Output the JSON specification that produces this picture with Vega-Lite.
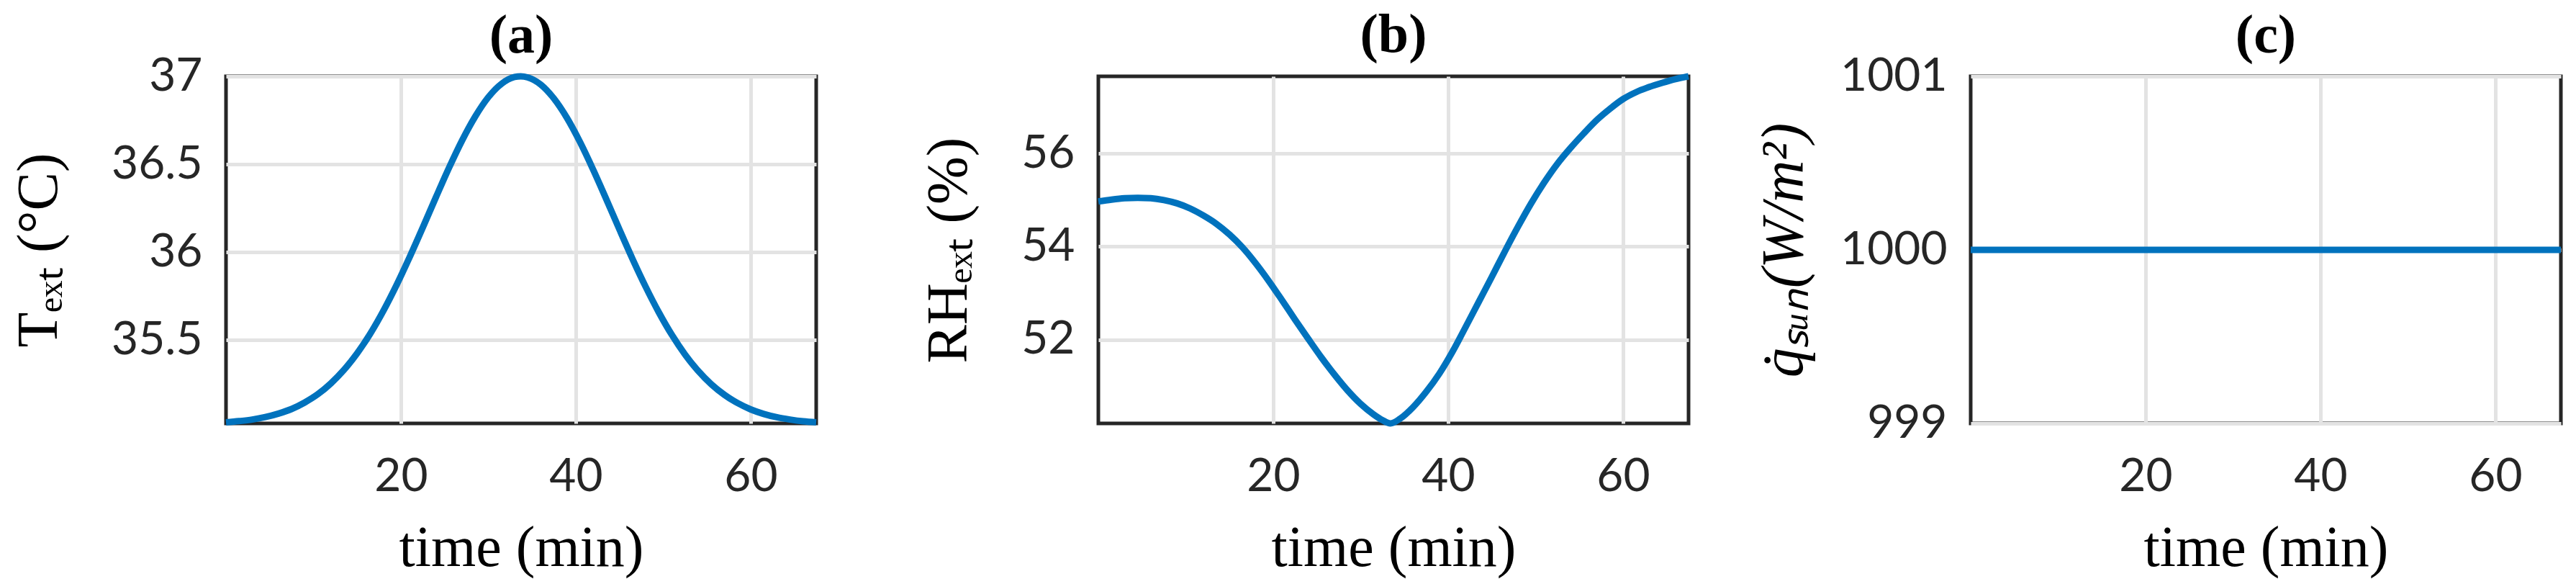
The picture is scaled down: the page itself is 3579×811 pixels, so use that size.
{
  "$schema": "https://vega.github.io/schema/vega-lite/v6.json",
  "background": "white",
  "padding": {"left": 12, "top": 8, "right": 0, "bottom": 0},
  "autosize": {"type": "pad"},
  "datasets": {
    "temp": [
      {"t": 0, "v": 35.031}, {"t": 1.5, "v": 35.038}, {"t": 3, "v": 35.047}, {"t": 4.5, "v": 35.061},
      {"t": 6, "v": 35.081}, {"t": 7.5, "v": 35.107}, {"t": 9, "v": 35.144}, {"t": 10.5, "v": 35.191},
      {"t": 12, "v": 35.253}, {"t": 13.5, "v": 35.33}, {"t": 15, "v": 35.424}, {"t": 16.5, "v": 35.536},
      {"t": 18, "v": 35.666}, {"t": 19.5, "v": 35.812}, {"t": 21, "v": 35.971}, {"t": 22.5, "v": 36.139},
      {"t": 24, "v": 36.311}, {"t": 25.5, "v": 36.479}, {"t": 27, "v": 36.635}, {"t": 28.5, "v": 36.771},
      {"t": 30, "v": 36.881}, {"t": 31.5, "v": 36.957}, {"t": 33, "v": 36.996}, {"t": 33.7, "v": 37.0},
      {"t": 34.5, "v": 36.994}, {"t": 36, "v": 36.953}, {"t": 37.5, "v": 36.874}, {"t": 39, "v": 36.763},
      {"t": 40.5, "v": 36.625}, {"t": 42, "v": 36.468}, {"t": 43.5, "v": 36.3}, {"t": 45, "v": 36.128},
      {"t": 46.5, "v": 35.96}, {"t": 48, "v": 35.802}, {"t": 49.5, "v": 35.657}, {"t": 51, "v": 35.528},
      {"t": 52.5, "v": 35.417}, {"t": 54, "v": 35.324}, {"t": 55.5, "v": 35.248}, {"t": 57, "v": 35.188},
      {"t": 58.5, "v": 35.141}, {"t": 60, "v": 35.105}, {"t": 61.5, "v": 35.079}, {"t": 63, "v": 35.06},
      {"t": 64.5, "v": 35.047}, {"t": 66, "v": 35.037}, {"t": 67.5, "v": 35.031}
    ],
    "rh": [
      {"t": 0, "v": 54.97}, {"t": 1.5, "v": 55.01}, {"t": 3, "v": 55.04}, {"t": 4.5, "v": 55.05},
      {"t": 6, "v": 55.04}, {"t": 7.5, "v": 55.0}, {"t": 9, "v": 54.93}, {"t": 10.5, "v": 54.82},
      {"t": 12, "v": 54.67}, {"t": 13.5, "v": 54.49}, {"t": 15, "v": 54.26}, {"t": 16.5, "v": 53.98},
      {"t": 18, "v": 53.64}, {"t": 19.5, "v": 53.26}, {"t": 21, "v": 52.85}, {"t": 22.5, "v": 52.43},
      {"t": 24, "v": 52.02}, {"t": 25.5, "v": 51.62}, {"t": 27, "v": 51.25}, {"t": 28.5, "v": 50.91},
      {"t": 30, "v": 50.62}, {"t": 31.5, "v": 50.39}, {"t": 32.5, "v": 50.27}, {"t": 33.4, "v": 50.2},
      {"t": 34.5, "v": 50.3}, {"t": 36, "v": 50.55}, {"t": 37.5, "v": 50.88}, {"t": 39, "v": 51.27},
      {"t": 40.5, "v": 51.74}, {"t": 42, "v": 52.27}, {"t": 43.5, "v": 52.81}, {"t": 45, "v": 53.35},
      {"t": 46.5, "v": 53.9}, {"t": 48, "v": 54.43}, {"t": 49.5, "v": 54.93}, {"t": 51, "v": 55.38},
      {"t": 52.5, "v": 55.78}, {"t": 54, "v": 56.12}, {"t": 55.5, "v": 56.43}, {"t": 57, "v": 56.72},
      {"t": 58.5, "v": 56.96}, {"t": 60, "v": 57.17}, {"t": 61.5, "v": 57.32}, {"t": 63, "v": 57.43},
      {"t": 64.5, "v": 57.52}, {"t": 66, "v": 57.6}, {"t": 67.5, "v": 57.66}
    ],
    "sun": [
      {"t": 0, "v": 1000}, {"t": 67.5, "v": 1000}
    ]
  },
  "spacing": 392,
  "bounds": "flush",
  "hconcat": [
    {
      "width": 820, "height": 482,
      "title": {"text": "(a)", "offset": -15},
      "data": {"name": "temp"},
      "mark": {"type": "line", "color": "#0072BD", "strokeWidth": 9, "interpolate": "monotone"},
      "encoding": {
        "x": {"field": "t", "type": "quantitative", "scale": {"domain": [0, 67.5], "nice": false, "zero": false},
              "axis": {"values": [20, 40, 60], "format": "d", "title": "time (min)"}},
        "y": {"field": "v", "type": "quantitative", "scale": {"domain": [35.025, 37], "nice": false, "zero": false},
              "axis": {"values": [35.5, 36, 36.5, 37], "format": ".1~f", "title": "Tₑₓₜ (°C)", "titlePadding": 59}}
      }
    },
    {
      "width": 820, "height": 482,
      "title": {"text": "(b)", "offset": 0},
      "data": {"name": "rh"},
      "mark": {"type": "line", "color": "#0072BD", "strokeWidth": 9, "interpolate": "monotone"},
      "encoding": {
        "x": {"field": "t", "type": "quantitative", "scale": {"domain": [0, 67.5], "nice": false, "zero": false},
              "axis": {"values": [20, 40, 60], "format": "d", "title": "time (min)"}},
        "y": {"field": "v", "type": "quantitative", "scale": {"domain": [50.2, 57.66], "nice": false, "zero": false},
              "axis": {"values": [52, 54, 56], "format": "d", "title": "RHₑₓₜ (%)", "titlePadding": 59}}
      }
    },
    {
      "width": 820, "height": 482,
      "title": {"text": "(c)", "offset": -15},
      "data": {"name": "sun"},
      "mark": {"type": "line", "color": "#0072BD", "strokeWidth": 9},
      "encoding": {
        "x": {"field": "t", "type": "quantitative", "scale": {"domain": [0, 67.5], "nice": false, "zero": false},
              "axis": {"values": [20, 40, 60], "format": "d", "title": "time (min)"}},
        "y": {"field": "v", "type": "quantitative", "scale": {"domain": [999, 1001], "nice": false, "zero": false},
              "axis": {"values": [999, 1000, 1001], "format": ".0f", "labelOverlap": false, "title": "q̇ₛᵤₙ(W/m²)", "titleFontStyle": "italic", "titleFontSize": 82, "titlePadding": 36}}
      }
    }
  ],
  "config": {
    "view": {"stroke": "#262626", "strokeWidth": 5},
    "axis": {
      "labelFont": "Lato", "labelFontSize": 64, "labelColor": "#262626",
      "titleFont": "Liberation Serif", "titleFontSize": 80, "titleFontWeight": "normal", "titleColor": "#000000",
      "grid": true, "gridColor": "#e3e3e3", "gridWidth": 5,
      "ticks": false, "domain": false, "labelFlush": false, "labelOverlap": false
    },
    "axisX": {"labelPadding": 42, "titlePadding": 28},
    "axisY": {"labelPadding": 33},
    "title": {"font": "Liberation Serif", "fontSize": 76, "fontWeight": "bold", "color": "#000000", "frame": "group", "anchor": "middle"}
  }
}
